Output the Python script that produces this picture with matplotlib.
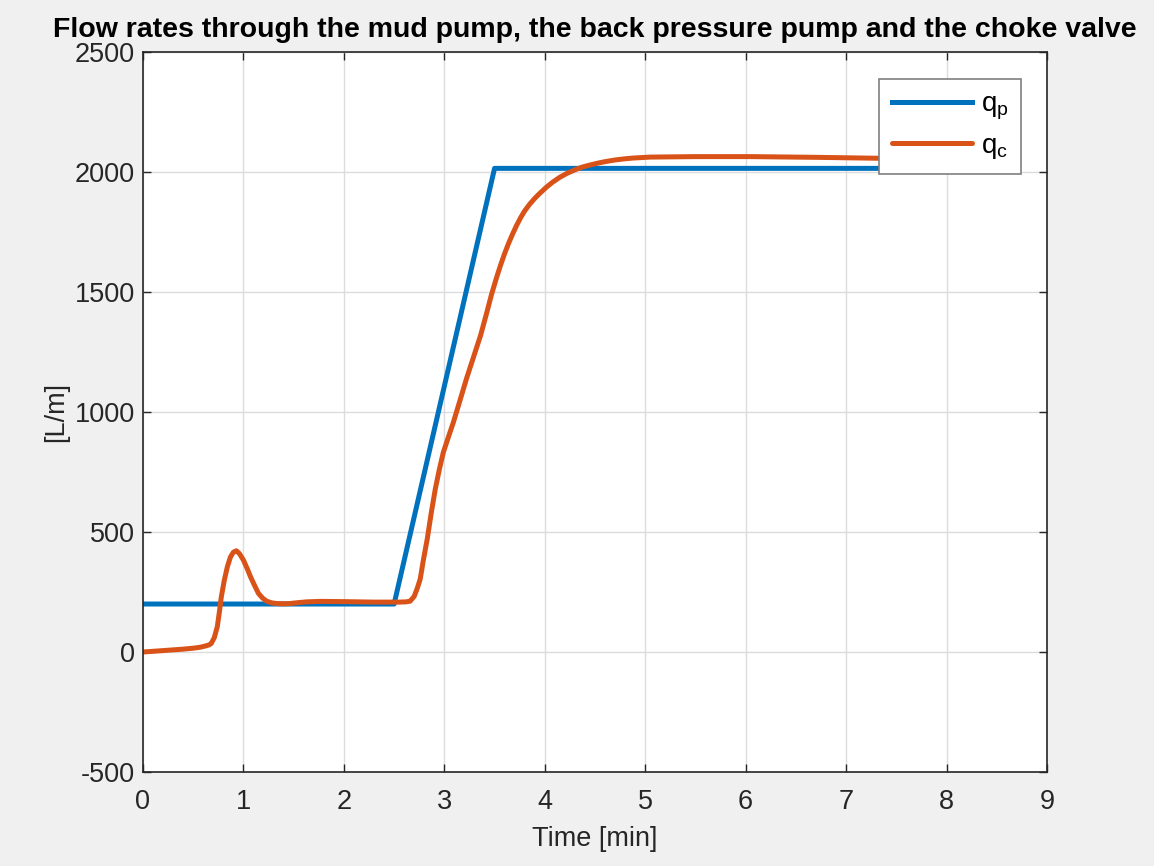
import matplotlib

matplotlib.use("Agg")
import matplotlib.pyplot as plt  # noqa: E402

# Mud pump flow (L/m) vs time (min)
t_pump = [0.0, 2.5, 3.5, 8.5]
q_pump = [200, 200, 2015, 2015]

# Choke valve flow (L/m) vs time (min)
t_choke = [
    0.00, 0.10, 0.20, 0.30, 0.40, 0.50, 0.57, 0.62, 0.66, 0.68, 0.71, 0.74,
    0.76, 0.78, 0.81, 0.84, 0.87, 0.90, 0.93, 0.96, 1.00, 1.04, 1.07, 1.11,
    1.15, 1.19, 1.23, 1.28, 1.33, 1.40, 1.46, 1.55, 1.63, 1.76, 2.00, 2.30,
    2.55, 2.62, 2.66, 2.70, 2.73, 2.76, 2.79, 2.83, 2.87, 2.91, 2.95, 2.99,
    3.04, 3.09, 3.15, 3.22, 3.29, 3.36, 3.42, 3.47, 3.52, 3.56, 3.60, 3.64,
    3.68, 3.72, 3.76, 3.80, 3.85, 3.90, 3.95, 4.02, 4.08, 4.15, 4.22, 4.30,
    4.37, 4.45, 4.52, 4.60, 4.70, 4.80, 4.88, 5.05, 5.50, 6.05, 6.70, 7.34,
    8.00, 8.50,
]
q_choke = [
    0, 3, 6, 9, 12, 16, 20, 25, 30, 36, 60, 106,
    165, 230, 300, 355, 395, 416, 422, 410, 383, 345, 314, 278,
    244, 225, 212, 205, 202, 201, 202, 206, 209, 211, 210, 208,
    208, 209, 212, 232, 265, 304, 380, 471, 580, 679, 760, 832,
    895, 957, 1040, 1138, 1228, 1318, 1410, 1490, 1560, 1612, 1660, 1703,
    1742, 1778, 1810, 1838, 1866, 1890, 1911, 1938, 1958, 1978, 1994, 2009,
    2020, 2029, 2036, 2043, 2050, 2055, 2058, 2062, 2064, 2064, 2061, 2057,
    2054, 2052,
]

x_ticks = list(range(0, 10))
y_ticks = list(range(-500, 2501, 500))

BLUE = "#0072BD"
ORANGE = "#D95319"
AXIS_GREY = "#262626"

plt.rcParams["font.family"] = ["Liberation Sans", "DejaVu Sans"]
plt.rcParams["mathtext.default"] = "regular"
plt.rcParams["axes.unicode_minus"] = False

fig = plt.figure(figsize=(11.54, 8.66), dpi=100, facecolor="#F0F0F0")
ax = fig.add_axes([0.1239, 0.1085, 0.7834, 0.8315])

ax.plot(t_pump, q_pump, color=BLUE, linewidth=3.6, label="$q_p$",
        solid_joinstyle="round")
ax.plot(t_choke, q_choke, color=ORANGE, linewidth=3.6, label="$q_c$",
        solid_joinstyle="round", solid_capstyle="round")

ax.set_xlim(0, 9)
ax.set_ylim(-500, 2500)
ax.set_xticks(x_ticks)
ax.set_yticks(y_ticks)

ax.grid(True, color="#DCDCDC", linewidth=1.0)
ax.set_axisbelow(True)

ax.tick_params(direction="in", length=6, width=1.0, top=True, right=True,
               labelsize=19.5, colors=AXIS_GREY)
ax.tick_params(axis="x", pad=12)
ax.tick_params(axis="y", pad=6)
for spine in ax.spines.values():
    spine.set_color(AXIS_GREY)
    spine.set_linewidth(1.2)

ax.set_xlabel("Time [min]", fontsize=19.5, color=AXIS_GREY, labelpad=8)
ax.set_ylabel("[L/m]", fontsize=19.5, color=AXIS_GREY, labelpad=4)
ax.set_title(
    "Flow rates through the mud pump, the back pressure pump and the choke valve",
    fontsize=20.5, fontweight="bold", color="black", pad=11,
)

leg = ax.legend(
    loc="upper right",
    bbox_to_anchor=(0.971, 0.9625),
    borderaxespad=0.0,
    fontsize=20,
    fancybox=False,
    framealpha=1.0,
    edgecolor="#7F7F7F",
    handlelength=2.9,
    handletextpad=0.3,
    borderpad=0.45,
    labelspacing=0.4,
)
leg.get_frame().set_linewidth(1.2)

fig.savefig("out.png", dpi=100, facecolor=fig.get_facecolor())
plt.close(fig)
